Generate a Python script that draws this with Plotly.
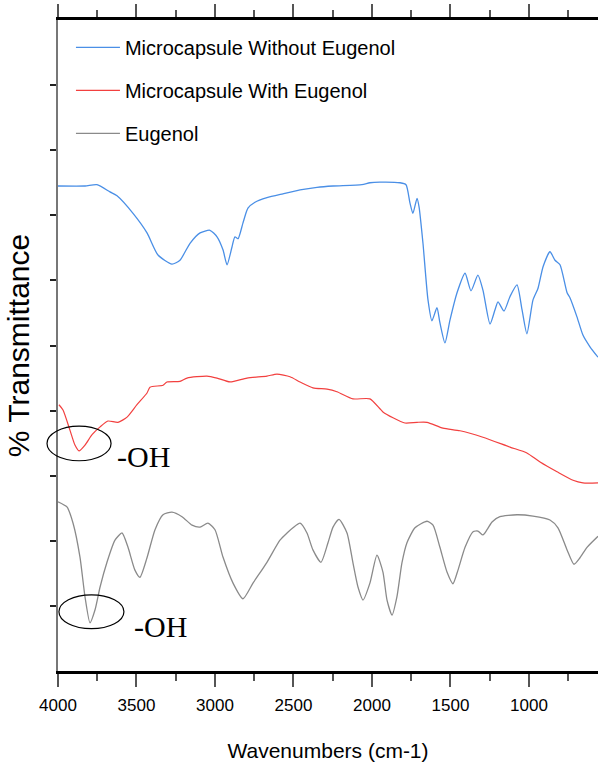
import plotly.graph_objects as go

# ---- data (wavenumber cm-1, % transmittance, arbitrary offset scale) ----
blue_w = [4000, 3828, 3752, 3669, 3624, 3522, 3433, 3363, 3274, 3223, 3159, 3095, 3032, 2987,
          2949, 2923, 2892, 2873, 2853, 2822, 2790, 2745, 2669, 2567, 2458, 2350, 2248, 2064,
          2013, 1949, 1821, 1783, 1758, 1739, 1713, 1700, 1675, 1643, 1618, 1586, 1567, 1535,
          1503, 1458, 1407, 1369, 1325, 1293, 1248, 1216, 1197, 1159, 1121, 1076, 1044, 1013,
          974, 942, 910, 866, 834, 802, 757, 738, 694, 656, 611, 560]
blue_t = [74.5, 74.5, 74.7, 73.6, 73.0, 70.3, 67.3, 63.9, 62.5, 63.1, 65.7, 67.3, 67.7, 66.7,
          64.7, 62.4, 65.1, 66.7, 66.4, 68.8, 71.1, 72.0, 72.7, 73.3, 73.9, 74.3, 74.5, 74.7,
          75.0, 75.1, 75.0, 74.7, 71.9, 70.3, 72.6, 71.3, 65.7, 57.0, 53.8, 55.8, 53.5, 50.4,
          53.9, 58.1, 61.1, 58.4, 60.8, 58.5, 53.3, 55.5, 56.7, 55.3, 57.5, 59.3, 55.5, 51.8,
          57.0, 58.8, 62.1, 64.4, 63.1, 62.4, 58.1, 57.3, 54.4, 51.6, 49.8, 48.2]

red_w = [3994, 3968, 3924, 3892, 3866, 3828, 3783, 3732, 3682, 3618, 3560, 3497, 3433, 3414,
         3331, 3306, 3223, 3178, 3051, 2987, 2904, 2796, 2669, 2605, 2522, 2458, 2376, 2286,
         2223, 2121, 2013, 1930, 1866, 1790, 1713, 1649, 1548, 1439, 1293, 1121, 1013, 929,
         821, 719, 656, 560]
red_t = [40.9, 40.1, 37.0, 34.7, 33.8, 34.7, 36.3, 37.5, 38.4, 38.2, 39.0, 40.9, 42.7, 43.6,
         43.9, 44.4, 44.5, 45.0, 45.3, 45.0, 44.4, 45.0, 45.3, 45.6, 45.2, 44.4, 43.5, 43.3,
         42.9, 41.8, 41.8, 39.8, 38.9, 38.1, 38.2, 38.2, 37.3, 36.9, 35.9, 34.4, 33.5, 32.1,
         30.6, 29.3, 28.9, 28.9]

gray_w = [4000, 3943, 3904, 3860, 3828, 3796, 3764, 3732, 3688, 3637, 3592, 3554, 3510, 3478,
          3433, 3382, 3331, 3274, 3210, 3146, 3095, 3045, 3000, 2949, 2885, 2822, 2758, 2669,
          2586, 2541, 2503, 2458, 2414, 2376, 2325, 2280, 2248, 2210, 2159, 2121, 2089, 2057,
          2013, 1968, 1930, 1904, 1872, 1841, 1809, 1777, 1726, 1649, 1611, 1567, 1522, 1484,
          1452, 1407, 1356, 1325, 1293, 1267, 1235, 1185, 1076, 974, 866, 815, 757, 713, 675,
          630, 560]
gray_t = [26.0, 25.2, 22.7, 17.5, 11.4, 7.4, 9.4, 12.9, 16.7, 20.1, 21.2, 19.0, 15.5, 14.4,
          17.4, 21.7, 24.0, 24.4, 23.7, 22.4, 22.1, 22.7, 21.7, 17.5, 13.5, 11.1, 13.5, 16.7,
          20.1, 21.2, 22.0, 22.7, 21.2, 18.6, 16.7, 19.7, 22.1, 23.3, 21.2, 16.6, 12.9, 10.9,
          13.5, 17.8, 15.2, 10.9, 8.6, 11.4, 16.6, 19.7, 22.0, 23.0, 22.4, 19.0, 15.2, 13.4,
          15.5, 19.0, 21.4, 21.5, 20.9, 21.7, 22.9, 23.7, 24.0, 23.8, 23.2, 22.0, 18.6, 16.4,
          17.4, 19.0, 20.7]

series_names = ["Microcapsule Without Eugenol", "Microcapsule With Eugenol", "Eugenol"]
x_tick_vals = [4000, 3500, 3000, 2500, 2000, 1500, 1000]
x_tick_text = ["4000", "3500", "3000", "2500", "2000", "1500", "1000"]
y_tick_vals = [10, 20, 30, 40, 50, 60, 70, 80, 90]
X_RANGE = [4000, 560]
Y_RANGE = [0, 100]

# -OH band markers (wavenumber span, transmittance span) and label anchors
oh_ellipses = [((4070, 3662), (32.3, 37.6)), ((3994, 3580), (6.5, 11.7))]
oh_labels = [(3637, 32.9), (3529, 6.9)]

SANS = "Liberation Sans, Arial, sans-serif"

fig = go.Figure()
for w, t, name, col, lw in [(blue_w, blue_t, series_names[0], "#4a8fe6", 1.3),
                            (red_w, red_t, series_names[1], "#f2403f", 1.2),
                            (gray_w, gray_t, series_names[2], "#8a8a8a", 1.3)]:
    fig.add_trace(go.Scatter(x=w, y=t, mode="lines", name=name, legendgroup=name,
                             line=dict(color=col, width=lw, shape="spline", smoothing=0.6)))


def px_x(w):
    return (X_RANGE[0] - w) / (X_RANGE[0] - X_RANGE[1])


def px_y(t):
    return (t - Y_RANGE[0]) / (Y_RANGE[1] - Y_RANGE[0])


for (wx, ty) in oh_ellipses:
    fig.add_shape(type="circle", xref="paper", yref="paper",
                  x0=px_x(wx[0]), x1=px_x(wx[1]), y0=px_y(ty[0]), y1=px_y(ty[1]),
                  line=dict(color="black", width=1.2))
for (w, t) in oh_labels:
    fig.add_annotation(x=w, y=t, xref="x", yref="y", text="-OH", showarrow=False,
                       xanchor="left", yanchor="middle",
                       font=dict(family="Liberation Serif, Times New Roman, serif", size=30, color="black"))

fig.update_layout(
    width=598, height=771,
    margin=dict(l=58, r=0, t=20, b=100),
    paper_bgcolor="white", plot_bgcolor="white",
    showlegend=True,
    legend=dict(x=0.024, y=0.988, xanchor="left", yanchor="top",
                bgcolor="rgba(0,0,0,0)", borderwidth=0,
                font=dict(family=SANS, size=20, color="black"),
                tracegroupgap=14, itemwidth=44),
    xaxis=dict(range=X_RANGE, showgrid=False, zeroline=False, automargin=False,
               showline=True, linecolor="black", linewidth=2.5, mirror="ticks",
               ticks="outside", ticklen=13, tickwidth=1.5, tickcolor="#555",
               tickvals=x_tick_vals, ticktext=x_tick_text, ticklabelstandoff=4,
               minor=dict(dtick=250, tick0=4000, ticks="outside", ticklen=7, tickwidth=1.5, tickcolor="#555"),
               tickfont=dict(family=SANS, size=17, color="black"),
               title=dict(text="Wavenumbers (cm-1)", standoff=30,
                          font=dict(family=SANS, size=21, color="black"))),
    yaxis=dict(range=Y_RANGE, showgrid=False, zeroline=False, automargin=False,
               showline=True, linecolor="#777", linewidth=2,
               ticks="outside", ticklen=6, tickwidth=1.5, tickcolor="#222",
               tickvals=y_tick_vals, showticklabels=False,
               title=dict(text="% Transmittance", standoff=12,
                          font=dict(family=SANS, size=30, color="black"))),
)

fig.write_html("out.html", post_script="document.body.style.margin='0px';",
               config={"displayModeBar": False})
